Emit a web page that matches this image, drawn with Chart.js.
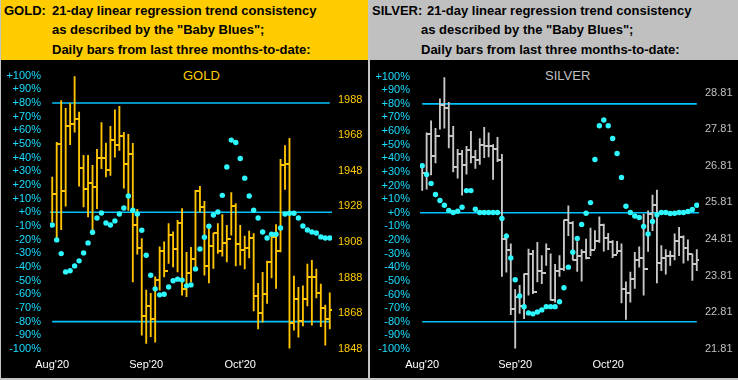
<!DOCTYPE html>
<html>
<head>
<meta charset="utf-8">
<script src="https://cdn.jsdelivr.net/npm/chart.js@4/dist/chart.umd.min.js"></script>
<style>
  html, body { margin: 0; padding: 0; }
  body { width: 738px; height: 380px; background: #c4c4c4; position: relative; overflow: hidden;
         font-family: "Liberation Sans", Arial, sans-serif; }
  .panel { position: absolute; top: 0; height: 378px; background: #000; }
  .head { position: absolute; left: 0; top: 0; right: 0; height: 60px; }
  .head div { position: absolute; font-weight: bold; font-size: 13px; line-height: 20px; color: #000; white-space: nowrap; }
  .name { position: absolute; top: 66px; font-size: 13px; line-height: 20px; white-space: nowrap; }
  canvas { position: absolute; left: 0; top: 60px; }
</style>
</head>
<body>

<div class="panel" id="goldPanel" style="left:1px;width:367px">
  <div class="head" style="background:#ffcc00">
    <div style="left:3px;top:1px">GOLD:</div>
    <div style="left:51px;top:1px">21-day linear regression trend consistency</div>
    <div style="left:51px;top:20px">as described by the "Baby Blues";</div>
    <div style="left:51px;top:40px">Daily bars from last three months-to-date:</div>
  </div>
  <div class="name" style="left:182px;color:#ffcc00">GOLD</div>
  <canvas id="goldChart" width="367" height="318"></canvas>
</div>

<div class="panel" id="silverPanel" style="left:370px;width:368px">
  <div class="head" style="background:#c0c0c0">
    <div style="left:2px;top:1px">SILVER:</div>
    <div style="left:57px;top:1px">21-day linear regression trend consistency</div>
    <div style="left:51px;top:20px">as described by the "Baby Blues";</div>
    <div style="left:51px;top:40px">Daily bars from last three months-to-date:</div>
  </div>
  <div class="name" style="left:175px;color:#c0c0c0">SILVER</div>
  <canvas id="silverChart" width="368" height="318"></canvas>
</div>

<script>
// month labels sit on the first trading day of each month (day index)
const monthStarts = [0, 21, 42];
const monthLabels = ["Aug'20", "Sep'20", "Oct'20"];

const pctTicks = [100, 90, 80, 70, 60, 50, 40, 30, 20, 10, 0, -10, -20, -30, -40, -50, -60, -70, -80, -90, -100];
const refLevels = [80, 0, -80];

// GOLD daily bars (price axis, right)
const goldPriceTicks = [1848, 1868, 1888, 1908, 1928, 1948, 1968, 1988];
const goldHigh = [1944.5, 1963.9, 1987.4, 1983.1, 1985.9, 2000.8, 1980.9, 1956.6, 1956.6, 1951.0,
  1960.0, 1975.1, 1963.5, 1972.9, 1982.2, 1984.2, 1969.5, 1968.4, 1963.4, 1926.4,
  1910.0, 1881.0, 1879.2, 1888.5, 1905.3, 1908.1, 1918.4, 1913.7, 1920.2, 1926.8,
  1902.2, 1905.0, 1937.0, 1939.3, 1930.9, 1917.4, 1913.1, 1918.4, 1923.4, 1917.4,
  1935.8, 1929.6, 1917.4, 1911.3, 1914.1, 1912.8, 1884.8, 1891.0, 1897.3, 1912.4,
  1917.8, 1954.4, 1962.2, 1966.2, 1888.9, 1882.6, 1883.4, 1895.6, 1897.8, 1892.8,
  1884.4, 1872.6, 1879.5];
const goldLow = [1919.3, 1909.0, 1915.0, 1928.2, 1962.6, 1969.7, 1939.3, 1927.7, 1922.1, 1912.2,
  1926.8, 1949.2, 1944.5, 1945.4, 1955.7, 1959.4, 1938.3, 1925.8, 1885.7, 1901.2,
  1855.8, 1851.2, 1854.9, 1851.8, 1881.0, 1888.5, 1896.0, 1894.1, 1891.3, 1878.2,
  1877.3, 1885.7, 1892.2, 1924.9, 1889.4, 1885.1, 1893.2, 1901.6, 1900.1, 1896.9,
  1911.8, 1894.6, 1895.0, 1893.0, 1899.1, 1869.4, 1859.2, 1863.0, 1873.6, 1887.9,
  1882.0, 1902.5, 1937.6, 1848.4, 1858.6, 1854.6, 1861.0, 1872.2, 1861.4, 1876.7,
  1860.5, 1850.2, 1859.2];
const goldClose = [1935.0, 1963.1, 1936.6, 1973.0, 1974.4, 1977.0, 1949.5, 1938.0, 1941.1, 1938.9,
  1955.1, 1955.1, 1948.6, 1965.0, 1962.2, 1967.3, 1951.6, 1957.2, 1917.8, 1904.7,
  1866.6, 1872.1, 1864.8, 1886.5, 1903.0, 1891.7, 1912.2, 1904.2, 1918.7, 1881.6,
  1890.7, 1898.6, 1936.6, 1927.7, 1894.6, 1905.8, 1913.1, 1903.0, 1907.2, 1909.8,
  1928.2, 1906.8, 1903.8, 1904.7, 1910.3, 1877.8, 1868.3, 1879.0, 1896.9, 1910.9,
  1903.0, 1951.0, 1951.8, 1862.7, 1876.0, 1863.8, 1876.2, 1888.5, 1888.2, 1879.5,
  1871.1, 1864.8, 1869.8];
// GOLD "Baby Blues" (% axis, left)
const goldBlues = [-9.3, -20.2, -30.2, -43.6, -42.8, -39.2, -35.5, -29.7, -22.4, -14.6,
  -4.2, -0.5, -7.8, -9.3, -6.3, -1.2, 3.2, 11.9, 1.5, -1.2,
  -13.1, -31.4, -46.0, -56.0, -60.4, -59.9, -54.7, -50.1, -48.9, -49.6,
  -53.8, -53.1, -41.4, -26.8, -18.2, -10.2, -2.0, 0.2, 12.4, 33.1,
  52.8, 51.1, 39.4, 25.0, 11.9, 1.5, -4.2, -14.4, -18.8, -16.1,
  -16.1, -11.5, -1.2, -0.7, -0.7, -4.2, -10.0, -12.9, -14.4, -15.1,
  -18.0, -18.8, -18.8];

// SILVER daily bars (price axis, right)
const silverPriceTicks = [21.81, 22.81, 23.81, 24.81, 25.81, 26.81, 27.81, 28.81];
const silverHigh = [26.85, 27.71, 28.04, 27.83, 28.64, 29.22, 28.54, 27.89, 27.26, 27.23,
  27.34, 27.75, 27.23, 27.55, 27.86, 27.71, 27.39, 27.59, 27.12, 24.95,
  24.68, 23.43, 23.55, 23.86, 24.54, 24.50, 24.72, 24.36, 24.68, 24.41,
  24.12, 24.36, 25.33, 25.72, 25.29, 24.74, 24.52, 24.81, 25.11, 25.04,
  25.42, 25.22, 24.97, 24.77, 24.75, 24.68, 23.64, 23.91, 24.45, 24.60,
  25.49, 25.58, 26.01, 26.15, 24.63, 24.52, 24.48, 24.95, 25.13, 24.90,
  24.79, 24.41, 24.52];
const silverLow = [26.14, 26.17, 26.56, 26.89, 27.81, 27.84, 27.30, 26.64, 26.47, 26.01,
  26.58, 26.89, 26.74, 26.85, 27.03, 27.05, 26.44, 26.92, 23.79, 23.91,
  22.75, 21.83, 22.78, 22.64, 23.28, 23.32, 23.64, 23.59, 24.09, 23.14,
  23.09, 23.79, 23.95, 24.90, 24.24, 23.93, 23.66, 24.27, 24.36, 24.54,
  24.72, 24.48, 24.52, 24.30, 24.41, 23.07, 22.62, 23.09, 23.46, 24.04,
  23.28, 24.47, 25.04, 23.61, 23.95, 23.85, 24.09, 24.24, 24.36, 24.15,
  24.23, 23.68, 23.95];
const silverClose = [26.62, 27.69, 27.08, 27.62, 28.47, 28.38, 27.62, 26.78, 27.14, 26.84,
  27.23, 27.05, 26.96, 27.39, 27.35, 27.35, 27.27, 26.97, 24.81, 24.52,
  22.91, 23.23, 22.99, 23.85, 24.39, 23.37, 23.93, 23.88, 24.53, 23.16,
  23.95, 23.99, 25.33, 25.25, 24.24, 24.36, 24.45, 24.29, 24.52, 24.75,
  25.20, 24.83, 24.74, 24.38, 24.48, 23.46, 23.34, 23.73, 24.23, 24.30,
  23.98, 25.49, 25.74, 24.15, 24.30, 24.36, 24.36, 24.77, 24.88, 24.56,
  24.41, 24.12, 24.24];
// SILVER "Baby Blues" (% axis, left)
const silverBlues = [34.5, 28.2, 21.6, 13.4, 9.0, 5.5, 1.7, 0.2, 1.2, 4.1,
  16.3, 16.3, 2.6, 0.2, 0.2, 0.2, 0.2, 0.2, -4.2, -17.1,
  -33.1, -49.2, -61.1, -68.9, -73.5, -74.2, -72.8, -71.3, -68.9, -68.9,
  -68.9, -65.3, -55.0, -39.9, -29.0, -18.8, -8.5, -0.3, 7.5, 39.1,
  63.9, 68.1, 63.9, 54.5, 43.5, 26.0, 4.8, 0.2, -2.3, -3.4,
  -10.0, -15.6, -6.4, -1.5, 0.2, 0.2, -0.5, -0.3, 0.2, 0.2,
  0.9, 2.4, 5.5];

Chart.defaults.font.family = '"Liberation Sans", Arial, sans-serif';
Chart.defaults.font.size = 11;

const lineColor = '#00c4ff';
const dotColor = '#2ef8ff';
const pctColor = '#19dcff';

// close tick: small mark to the right of the bar
function closeMark(color) {
  const c = document.createElement('canvas');
  c.width = 8; c.height = 2;
  const g = c.getContext('2d');
  g.fillStyle = color;
  g.fillRect(4, 0, 4, 2);
  return c;
}

function noGrid() {
  return { display: false, drawTicks: false };
}

function buildChart(id, s) {
  const n = s.high.length;
  const datasets = [];

  refLevels.forEach(lv => {
    const from = lv === 0 ? -0.5 : 0;
    const to = lv === 0 ? n - 0.5 : n - 1;
    datasets.push({
      type: 'line', yAxisID: 'pct', order: 3,
      data: [{ x: from, y: lv }, { x: to, y: lv }],
      borderColor: lineColor, borderWidth: 1.6, pointRadius: 0
    });
  });

  datasets.push({
    type: 'bar', yAxisID: 'price', order: 2,
    data: s.high.map((h, i) => ({ x: i, y: [s.low[i], h] })),
    backgroundColor: s.barColor, borderWidth: 0, barThickness: 1.2
  });

  datasets.push({
    type: 'scatter', yAxisID: 'price', order: 1,
    data: s.close.map((c, i) => ({ x: i, y: c })),
    pointStyle: closeMark(s.barColor), pointRadius: 4
  });

  datasets.push({
    type: 'scatter', yAxisID: 'pct', order: 0,
    data: s.blues.map((b, i) => ({ x: i, y: b })),
    pointStyle: 'circle', pointRadius: 2.7, borderWidth: 0,
    backgroundColor: dotColor
  });

  return new Chart(document.getElementById(id), {
    type: 'bar',
    data: { datasets },
    options: {
      responsive: false,
      animation: false,
      devicePixelRatio: 1,
      events: [],
      layout: { padding: { top: 15, left: 0, right: 0, bottom: 0 } },
      plugins: { legend: { display: false }, tooltip: { enabled: false } },
      scales: {
        x: {
          type: 'linear', min: -0.5, max: n - 0.5, offset: false,
          grid: noGrid(), border: { display: false },
          afterBuildTicks: sc => { sc.ticks = monthStarts.map(v => ({ value: v })); },
          afterFit: sc => { sc.height = 29; },
          ticks: {
            color: '#ffffff', padding: 9, maxRotation: 0, autoSkip: false,
            callback: v => monthLabels[monthStarts.indexOf(v)]
          }
        },
        pct: {
          type: 'linear', position: 'left', min: -100, max: 100,
          grid: noGrid(), border: { display: false },
          afterBuildTicks: sc => { sc.ticks = pctTicks.map(v => ({ value: v })); },
          afterFit: sc => { sc.width = s.leftWidth; },
          ticks: {
            color: pctColor, padding: s.leftPad, autoSkip: false,
            callback: v => (v >= 0 ? '+' : '') + v + '%'
          }
        },
        price: {
          type: 'linear', position: 'right', min: s.priceMin, max: s.priceMax,
          grid: noGrid(), border: { display: false },
          afterBuildTicks: sc => { sc.ticks = s.priceTicks.map(v => ({ value: v })); },
          afterFit: sc => { sc.width = s.rightWidth; },
          ticks: {
            color: s.labelColor, padding: 6, autoSkip: false,
            callback: v => v.toFixed(s.decimals)
          }
        }
      }
    }
  });
}

buildChart('goldChart', {
  high: goldHigh, low: goldLow, close: goldClose, blues: goldBlues,
  priceTicks: goldPriceTicks, priceMin: 1848, priceMax: 2001.4, decimals: 0,
  barColor: '#ffc400', labelColor: '#ffcc00',
  leftWidth: 49, leftPad: 9, rightWidth: 36
});

buildChart('silverChart', {
  high: silverHigh, low: silverLow, close: silverClose, blues: silverBlues,
  priceTicks: silverPriceTicks, priceMin: 21.81, priceMax: 29.244, decimals: 2,
  barColor: '#c8c8c8', labelColor: '#c0c0c0',
  leftWidth: 50, leftPad: 10, rightWidth: 39
});
</script>
</body>
</html>
